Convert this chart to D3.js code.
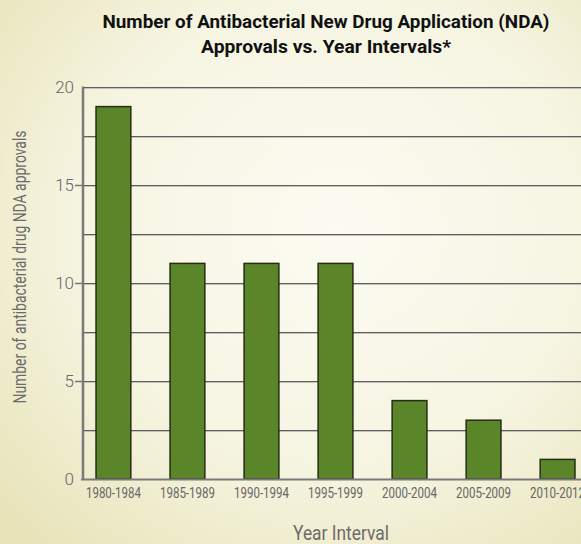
<!DOCTYPE html>
<html>
<head>
<meta charset="utf-8">
<script src="https://cdnjs.cloudflare.com/ajax/libs/d3/7.8.5/d3.min.js"></script>
<style>
  html, body { margin: 0; padding: 0; overflow: hidden; }
  #chart { width: 581px; height: 544px; }
  .narrow { font-family: "Liberation Sans Narrow", "Roboto", "Liberation Sans", sans-serif; }
</style>
</head>
<body>
<div id="chart"></div>
<script>
// data
var intervals = ["1980-1984", "1985-1989", "1990-1994", "1995-1999", "2000-2004", "2005-2009", "2010-2012"];
var approvals = [19, 11, 11, 11, 4, 3, 1];
var yTicks = [0, 5, 10, 15, 20];
var gridValues = [2.5, 5, 7.5, 10, 12.5, 15, 17.5, 20];
var titleLines = ["Number of Antibacterial New Drug Application (NDA)", "Approvals vs. Year Intervals*"];

var W = 581, H = 544;
var plot = { left: 83, top: 87, bottom: 479, right: 588 };

var svg = d3.select("#chart").append("svg")
    .attr("width", W)
    .attr("height", H);

// cream background with a soft yellow edge
var defs = svg.append("defs");
var grad = defs.append("radialGradient")
    .attr("id", "bg")
    .attr("cx", "58%").attr("cy", "42%").attr("r", "78%");
grad.append("stop").attr("offset", "0%").attr("stop-color", "#fbfbf2");
grad.append("stop").attr("offset", "55%").attr("stop-color", "#f6f5e2");
grad.append("stop").attr("offset", "100%").attr("stop-color", "#e8e3b8");

svg.append("rect")
    .attr("width", W).attr("height", H)
    .attr("fill", "url(#bg)");

// scales
var y = d3.scaleLinear().domain([0, 20]).range([plot.bottom, plot.top]);
var x = d3.scaleBand()
    .domain(intervals)
    .range([plot.left, plot.right])
    .paddingInner(0.53)
    .paddingOuter(0.176);

// grid lines (dark line with a light shadow under it)
var grid = svg.append("g");
grid.selectAll(".gl").data(gridValues).enter().append("line")
    .attr("x1", plot.left).attr("x2", W)
    .attr("y1", function(d) { return y(d) + 1.5; })
    .attr("y2", function(d) { return y(d) + 1.5; })
    .attr("stroke", "#c2c2b8").attr("stroke-width", 1);
grid.selectAll(".gd").data(gridValues).enter().append("line")
    .attr("x1", plot.left).attr("x2", W)
    .attr("y1", function(d) { return y(d) + 0.5; })
    .attr("y2", function(d) { return y(d) + 0.5; })
    .attr("stroke", "#5e5e5e").attr("stroke-width", 1);

// bars
svg.append("g").selectAll("rect").data(approvals).enter().append("rect")
    .attr("x", function(d, i) { return x(intervals[i]); })
    .attr("y", function(d) { return y(d); })
    .attr("width", x.bandwidth())
    .attr("height", function(d) { return y(0) - y(d); })
    .attr("fill", "#5b8529")
    .attr("stroke", "#252d14")
    .attr("stroke-width", 1.5);

// y axis
var yAxis = svg.append("g")
    .attr("transform", "translate(" + plot.left + ",0)")
    .call(d3.axisLeft(y).tickValues(yTicks).tickSize(8).tickPadding(1));
yAxis.select(".domain").remove();
yAxis.selectAll(".tick line")
    .attr("stroke", "#777")
    .attr("stroke-width", 1.5)
    .style("display", function(d) { return (d === 0 || d === 20) ? "none" : null; });
yAxis.selectAll(".tick text")
    .attr("fill", "#666")
    .style("font-family", "Roboto, 'Liberation Sans', sans-serif")
    .style("font-weight", 300)
    .style("font-size", "17px");

// axis lines
svg.append("line")
    .attr("x1", plot.left).attr("x2", plot.left)
    .attr("y1", plot.top - 0.5).attr("y2", plot.bottom + 1)
    .attr("stroke", "#7a7a7a").attr("stroke-width", 2.5);

// x axis
var xAxis = svg.append("g")
    .attr("transform", "translate(0," + plot.bottom + ")")
    .call(d3.axisBottom(x).tickSize(0).tickPadding(9));
xAxis.select(".domain")
    .attr("d", "M" + (plot.left - 2) + ",0.5H" + W)
    .attr("stroke", "#7a7a7a")
    .attr("stroke-width", 2);
xAxis.selectAll(".tick text")
    .attr("class", "narrow")
    .attr("fill", "#666")
    .style("font-size", "14px")
    .attr("textLength", 55)
    .attr("lengthAdjust", "spacingAndGlyphs");

// title
svg.append("g").selectAll("text").data(titleLines).enter().append("text")
    .attr("class", "narrow")
    .attr("x", 326)
    .attr("y", function(d, i) { return 28 + i * 25; })
    .attr("text-anchor", "middle")
    .attr("fill", "#111")
    .style("font-size", "19px")
    .style("font-weight", "bold")
    .attr("textLength", function(d, i) { return i === 0 ? 447 : 250; })
    .attr("lengthAdjust", "spacingAndGlyphs")
    .text(function(d) { return d; });

// axis titles
svg.append("text")
    .attr("class", "narrow")
    .attr("x", 341).attr("y", 540)
    .attr("text-anchor", "middle")
    .attr("fill", "#6b6b6b")
    .style("font-size", "20px")
    .attr("textLength", 96)
    .attr("lengthAdjust", "spacingAndGlyphs")
    .text("Year Interval");

svg.append("text")
    .attr("class", "narrow")
    .attr("transform", "translate(26,267) rotate(-90)")
    .attr("text-anchor", "middle")
    .attr("fill", "#6b6b6b")
    .style("font-size", "19px")
    .attr("textLength", 273)
    .attr("lengthAdjust", "spacingAndGlyphs")
    .text("Number of antibacterial drug NDA approvals");
</script>
</body>
</html>
